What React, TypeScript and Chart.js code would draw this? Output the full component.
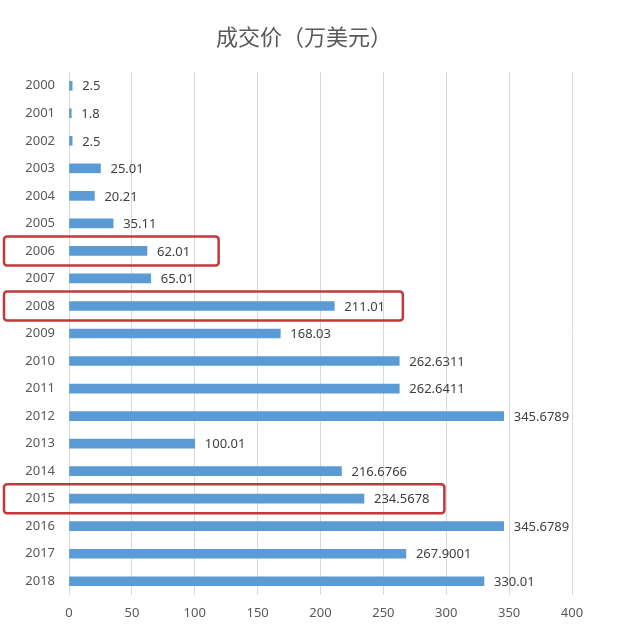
import React, { useEffect, useRef } from "react";
import { Chart, registerables } from "chart.js";

Chart.register(...registerables);

const titleText = "成交价（万美元）";
const years = ["2000","2001","2002","2003","2004","2005","2006","2007","2008","2009","2010","2011","2012","2013","2014","2015","2016","2017","2018"];
const prices = [2.5, 1.8, 2.5, 25.01, 20.21, 35.11, 62.01, 65.01, 211.01, 168.03, 262.6311, 262.6411, 345.6789, 100.01, 216.6766, 234.5678, 345.6789, 267.9001, 330.01];
const priceLabels = ["2.5","1.8","2.5","25.01","20.21","35.11","62.01","65.01","211.01","168.03","262.6311","262.6411","345.6789","100.01","216.6766","234.5678","345.6789","267.9001","330.01"];
const highlightYears = ["2006", "2008", "2015"];
const highlightEnds = [119, 265.5, 298.5];

const NUM_FONT = "'Noto Sans', sans-serif";

const titlePlugin = {
  id: "customTitle",
  afterDraw(chart: any) {
    const ctx = chart.ctx;
    ctx.save();
    ctx.font = "22px 'Noto Sans CJK SC', sans-serif";
    ctx.fillStyle = "#595959";
    ctx.textAlign = "center";
    ctx.textBaseline = "middle";
    ctx.fillText(titleText, 304, 37);
    ctx.restore();
  },
};

const labelPlugin = {
  id: "valueLabels",
  afterDatasetsDraw(chart: any) {
    const ctx = chart.ctx;
    const meta = chart.getDatasetMeta(0);
    ctx.save();
    ctx.font = "13px " + NUM_FONT;
    ctx.fillStyle = "#404040";
    ctx.textAlign = "left";
    ctx.textBaseline = "middle";
    meta.data.forEach((bar: any, i: number) => {
      ctx.fillText(priceLabels[i], bar.x + 10, bar.y + 1);
    });
    ctx.restore();
  },
};

const boxPlugin = {
  id: "highlightBoxes",
  afterDraw(chart: any) {
    const ctx = chart.ctx;
    const y = chart.scales.y;
    const x = chart.scales.x;
    ctx.save();
    ctx.strokeStyle = "#C0393B";
    ctx.lineWidth = 2.5;
    highlightYears.forEach((yr, i) => {
      const idx = years.indexOf(yr);
      const cy = y.getPixelForValue(idx);
      const left = 4;
      const right = x.getPixelForValue(highlightEnds[i]);
      const top = cy - 14.5;
      const h = 29;
      ctx.beginPath();
      (ctx as any).roundRect(left, top, right - left, h, 3);
      ctx.stroke();
    });
    ctx.restore();
  },
};

export default function App() {
  const ref = useRef<HTMLCanvasElement>(null);
  useEffect(() => {
    if (!ref.current) return;
    const chart = new Chart(ref.current, {
      type: "bar",
      data: {
        labels: years,
        datasets: [
          {
            data: prices,
            backgroundColor: "#5B9BD5",
            barThickness: 9,
          },
        ],
      },
      options: {
        indexAxis: "y",
        animation: false,
        responsive: false,
        maintainAspectRatio: false,
        layout: { padding: { left: 0, right: 59, top: 72, bottom: 0 } },
        plugins: {
          legend: { display: false },
          tooltip: { enabled: false },
          title: { display: false },
        },
        scales: {
          x: {
            min: 0,
            max: 400,
            ticks: {
              stepSize: 50,
              color: "#595959",
              font: { family: NUM_FONT, size: 13 },
              padding: 10,
            },
            grid: { color: "#D9D9D9", drawTicks: false, lineWidth: 1 },
            border: { display: false },
            afterFit(scale: any) {
              scale.height = 43;
            },
          },
          y: {
            ticks: {
              color: "#595959",
              font: { family: NUM_FONT, size: 13 },
              padding: 14,
            },
            grid: { display: false, drawTicks: false },
            border: { display: false },
            afterFit(scale: any) {
              scale.width = 69;
            },
          },
        },
      },
      plugins: [labelPlugin, boxPlugin, titlePlugin],
    });
    return () => chart.destroy();
  }, []);
  return (
    <div style={{ position: "absolute", left: 0, top: 0, width: 631, height: 638, background: "#fff" }}>
      <canvas ref={ref} width={631} height={638} style={{ width: 631, height: 638 }} />
    </div>
  );
}
